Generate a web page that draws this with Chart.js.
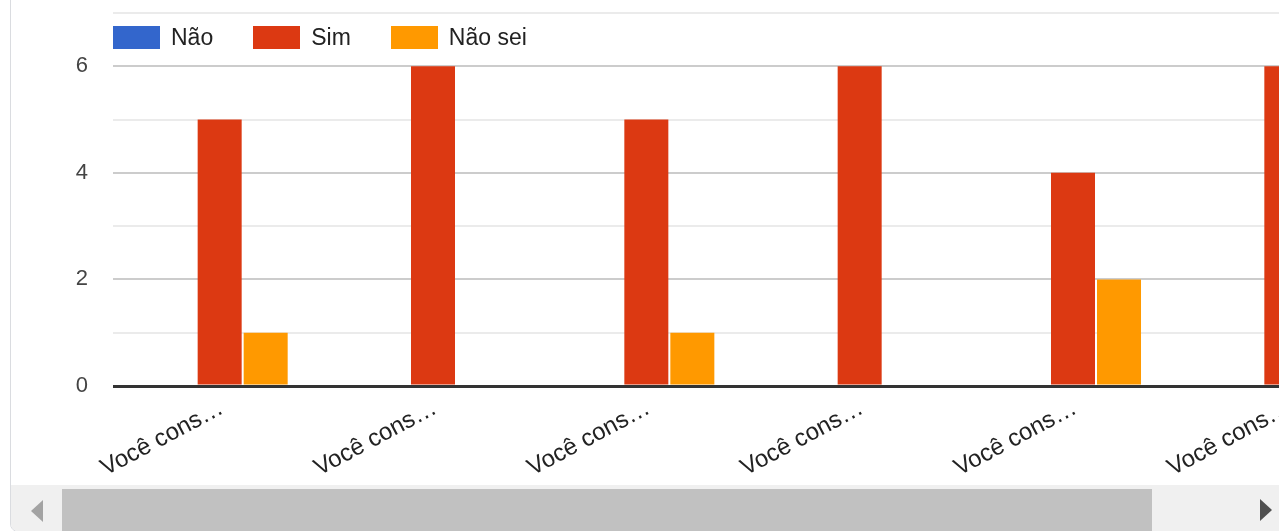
<!DOCTYPE html>
<html>
<head>
<meta charset="utf-8">
<script src="https://cdn.jsdelivr.net/npm/chart.js@4/dist/chart.umd.min.js"></script>
<style>
  body { margin: 0; background: #fff; font-family: "Liberation Sans", Arial, sans-serif; overflow: hidden; }
  #card { position: absolute; left: 10px; top: -20px; width: 1300px; height: 550px;
          border: 1px solid #dadce0; border-radius: 8px; overflow: hidden; background: #fff; }
  #scroll { position: absolute; left: 0; top: 20px; width: 1300px; height: 485px; overflow: hidden; }
  #legend { position: absolute; left: 102px; top: 45px; display: flex; align-items: center;
            font-size: 23px; color: #222; }
  #legend .item { display: flex; align-items: center; margin-right: 40px; }
  #legend .box { width: 47px; height: 23px; margin-right: 11px; }
  #legend span { line-height: 23px; }
  #track { position: absolute; left: 0; top: 504px; width: 1300px; height: 50px; background: #f0f0f0; }
  #thumb { position: absolute; left: 51px; top: 4px; width: 1090px; height: 50px; background: #c1c1c1; }
  .arrow { position: absolute; width: 0; height: 0; border-top: 11px solid transparent; border-bottom: 11px solid transparent; }
  #left { left: 20px; top: 15px; border-right: 12px solid #a3a3a3; }
  #right { left: 1249px; top: 14px; border-left: 12px solid #505050; }
</style>
</head>
<body>
<div id="card">
  <div id="scroll"><canvas id="chart" width="1390" height="485"></canvas></div>
  <div id="legend"></div>
  <div id="track"><div id="thumb"></div><div class="arrow" id="left"></div><div class="arrow" id="right"></div></div>
</div>
<script>
// values (6th group is partly cut off by the scroll)
const categories = ['Você cons…', 'Você cons…', 'Você cons…', 'Você cons…', 'Você cons…', 'Você cons…'];
const seriesNames = ['Não', 'Sim', 'Não sei'];
const seriesColors = ['#3366cc', '#dc3912', '#ff9900'];
const naoValues = [0, 0, 0, 0, 0, 0];
const simValues = [5, 6, 5, 6, 4, 6];
const naoSeiValues = [1, 0, 1, 0, 2, 0];
const yTickLabels = [0, 2, 4, 6];

const seriesValues = [naoValues, simValues, naoSeiValues];

// legend
document.getElementById('legend').innerHTML = seriesNames.map((name, i) => `
  <div class="item"><div class="box" style="background:${seriesColors[i]}"></div><span>${name}</span></div>
`).join('');

new Chart(document.getElementById('chart'), {
    type: 'bar',
    data: {
        labels: categories,
        datasets: seriesNames.map((name, i) => ({
            label: name,
            data: seriesValues[i],
            backgroundColor: seriesColors[i],
            categoryPercentage: 0.647,
            barPercentage: 0.9565
        }))
    },
    options: {
        responsive: false,
        animation: false,
        layout: { padding: { top: 12, right: 8, left: 0, bottom: 0 } },
        plugins: { legend: { display: false }, tooltip: { enabled: false } },
        scales: {
            x: {
                grid: { display: false, drawTicks: false },
                border: { display: false },
                ticks: {
                    autoSkip: false,
                    minRotation: 28,
                    maxRotation: 28,
                    padding: 8,
                    labelOffset: 2,
                    color: '#222',
                    font: { family: '"Liberation Sans", Arial, sans-serif', size: 24 }
                },
                afterFit: s => { s.height = 100; s.paddingLeft = 0; s.paddingRight = 0; }
            },
            y: {
                min: 0,
                max: 7,
                grid: {
                    drawTicks: false,
                    color: c => c.tick.value === 0 ? '#333333' : (c.tick.value % 2 === 0 ? '#cccccc' : '#ebebeb'),
                    lineWidth: c => c.tick.value === 0 ? 3 : 2
                },
                border: { display: false },
                ticks: {
                    stepSize: 1,
                    padding: 25,
                    color: '#444',
                    font: { family: '"Liberation Sans", Arial, sans-serif', size: 22 },
                    callback: v => yTickLabels.includes(v) ? String(v) : ''
                },
                afterFit: s => { s.width = 102; s.paddingTop = 0; s.paddingBottom = 0; }
            }
        }
    }
});
</script>
</body>
</html>
